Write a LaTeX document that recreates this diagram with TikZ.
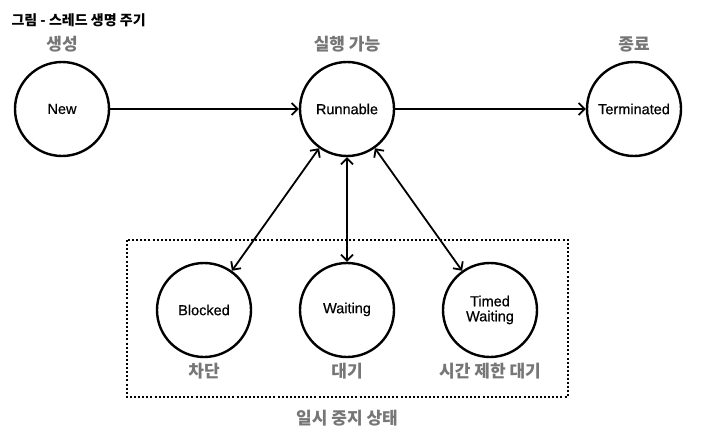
\documentclass[tikz,border=0pt]{standalone}
\usepackage{fontspec}
\setmainfont{Noto Sans CJK KR}
\newfontfamily\statefont[FakeBold=0.5]{Liberation Sans}
\usetikzlibrary{arrows.meta}
\definecolor{labelgray}{HTML}{767676}
\begin{document}
\begin{tikzpicture}[x=1pt,y=-1pt,
  state/.style={circle,draw=black,line width=2.4pt,minimum size=94pt,inner sep=0pt,font=\statefont\fontsize{14.5}{16}\selectfont,align=center},
  caption/.style={text=labelgray,font=\fontsize{17}{19}\selectfont\bfseries},
  link/.style={line width=1.8pt,-{Straight Barb[length=6pt,width=12pt,line width=1.8pt]}},
  twoway/.style={line width=1.8pt,{Straight Barb[length=6pt,width=12pt,line width=1.8pt]}-{Straight Barb[length=6pt,width=12pt,line width=1.8pt]}}]
\useasboundingbox (0,0) rectangle (718,444);

\node[anchor=west,font=\fontsize{14}{16}\selectfont\bfseries] (title) at (8,20) {그림 - 스레드 생명 주기};

\node[state] (new)   at (62,109)  {New};
\node[state] (run)   at (347,109) {Runnable};
\node[state] (term)  at (634,109) {Terminated};
\node[state] (blk)   at (204,310) {Blocked};
\node[state] (wait)  at (347,310) {Waiting\strut};
\node[state] (timed) at (490,310) {Timed\\[-1pt]Waiting};

\node[caption] (newlbl)   at (62,44)  {생성};
\node[caption] (runlbl)   at (347,44) {실행 가능};
\node[caption] (termlbl)  at (634,44) {종료};
\node[caption] (blklbl)   at (204,371) {차단};
\node[caption] (waitlbl)  at (347,371) {대기};
\node[caption] (timedlbl) at (490,371) {시간 제한 대기};
\node[caption] (pauselbl) at (347,418) {일시 중지 상태};

\draw[line width=2.2pt,dash pattern=on 2pt off 2.1pt] (127,240) rectangle (568,397);

\draw[link]   (new) -- (run);
\draw[link]   (run) -- (term);
\draw[twoway] (run) -- (blk);
\draw[twoway] (run) -- (wait);
\draw[twoway] (run) -- (timed);

\end{tikzpicture}
\end{document}
